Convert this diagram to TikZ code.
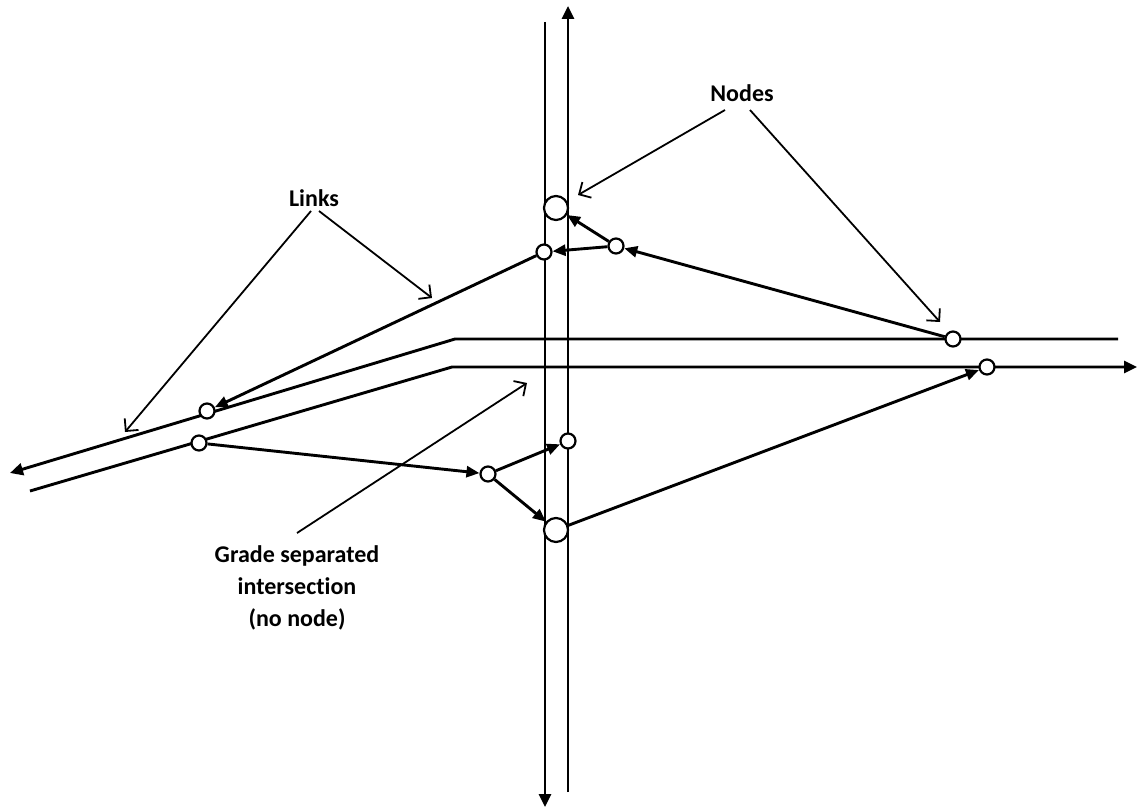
\documentclass[tikz,border=0pt]{standalone}
\usepackage{fontspec}
\setmainfont{Carlito}[Ligatures=NoCommon]
\usetikzlibrary{arrows.meta}
\begin{document}
\begin{tikzpicture}[x=1pt,y=-1pt,
  road/.style={line width=2.9pt},
  link/.style={line width=2.9pt,-{Triangle[length=13pt,width=11pt]}},
  pt/.style={circle,draw,fill=white,line width=2.2pt,inner sep=0pt,minimum size=15pt},
  bigpt/.style={pt,minimum size=24pt},
  callout/.style={line width=1.8pt,-{Straight Barb[length=9pt,width=18pt]}},
  txt/.style={font=\bfseries\fontsize{24}{32}\selectfont,align=center}]
\useasboundingbox (0,0) rectangle (1138,808);

% road end points and bends
\coordinate (vl-top) at (545,22);
\coordinate (vl-bot) at (545,807);
\coordinate (vr-bot) at (568,792);
\coordinate (vr-top) at (568,6);
\coordinate (up-west) at (10,473);
\coordinate (up-bend) at (455,339);
\coordinate (up-east) at (1118,339);
\coordinate (lo-west) at (30,491);
\coordinate (lo-bend) at (452,367);
\coordinate (lo-east) at (1137,367);

% roads
\draw[road,-{Triangle[length=13pt,width=12pt]}] (vl-top) -- (vl-bot);
\draw[road,-{Triangle[length=13pt,width=12pt]}] (vr-bot) -- (vr-top);
\draw[road,{Triangle[length=13pt,width=12pt]}-] (up-west) -- (up-bend) -- (up-east);
\draw[road,-{Triangle[length=13pt,width=12pt]}] (lo-west) -- (lo-bend) -- (lo-east);

% nodes
\node[pt] (w1) at (207,411) {};
\node[pt] (w2) at (199,443) {};
\node[pt] (n1) at (544,252) {};
\node[pt] (n2) at (616,246) {};
\node[bigpt] (n3) at (556,208) {};
\node[pt] (e1) at (953,339) {};
\node[pt] (e2) at (987,367) {};
\node[pt] (s1) at (568,441) {};
\node[pt] (s2) at (488,474) {};
\node[bigpt] (s3) at (556,530) {};

% links between nodes
\draw[link] (e1) -- (n2);
\draw[link] (n2) -- (n3);
\draw[link] (n2) -- (n1);
\draw[link] (n1) -- (w1);
\draw[link] (w2) -- (s2);
\draw[link] (s2) -- (s1);
\draw[link] (s2) -- (s3);
\draw[link] (s3) -- (e2);

% labels
\node[txt] (nodes) at (742,93) {Nodes};
\node[txt] (links) at (314,198) {Links};
\node[txt] (grade) at (297,588) {Grade separated\\intersection\\(no node)};

% callout lines
\coordinate (nodes-l) at (725,110);
\coordinate (nodes-r) at (750,110);
\coordinate (nodes-lt) at (578,195);
\coordinate (nodes-rt) at (940,322);
\coordinate (links-l) at (311,211);
\coordinate (links-r) at (319,211);
\coordinate (links-lt) at (125,432);
\coordinate (links-rt) at (432,298);
\coordinate (grade-s) at (297,533);
\coordinate (grade-t) at (527,383);
\draw[callout] (nodes-l) -- (nodes-lt);
\draw[callout] (nodes-r) -- (nodes-rt);
\draw[callout] (links-l) -- (links-lt);
\draw[callout] (links-r) -- (links-rt);
\draw[callout] (grade-s) -- (grade-t);
\end{tikzpicture}
\end{document}
